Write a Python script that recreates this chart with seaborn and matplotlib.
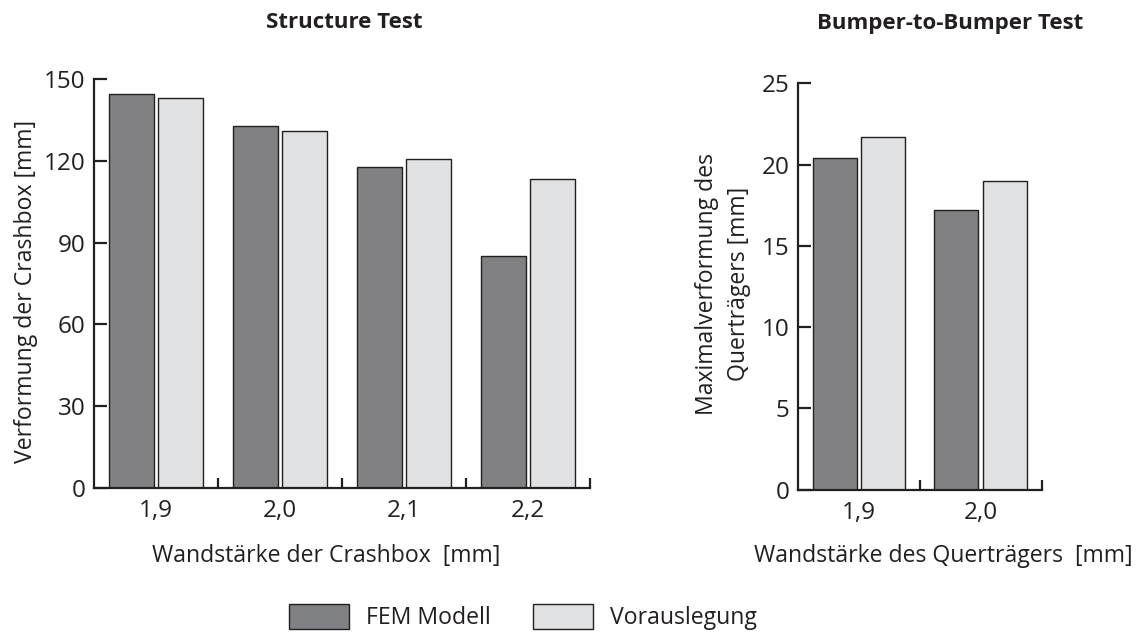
import matplotlib
matplotlib.use("Agg")
import matplotlib.pyplot as plt
import seaborn as sns
import pandas as pd
from matplotlib.patches import Patch
from matplotlib.ticker import FixedLocator

# Data
series_names = ["FEM Modell", "Vorauslegung"]

crashbox_thickness = ["1,9", "2,0", "2,1", "2,2"]
crashbox_fem = [144.6, 132.7, 117.6, 85.1]
crashbox_vor = [143.0, 131.0, 120.6, 113.5]

beam_thickness = ["1,9", "2,0"]
beam_fem = [20.4, 17.2]
beam_vor = [21.7, 19.0]

crashbox_yticks = [0, 30, 60, 90, 120, 150]
beam_yticks = [0, 5, 10, 15, 20, 25]

DARK = "#808184"
LIGHT = "#e0e1e3"
EDGE = "#231f20"
TEXT = "#231f20"

sns.set_theme(style="white")
plt.rcParams["font.family"] = ["Open Sans", "DejaVu Sans"]
plt.rcParams["text.color"] = TEXT
plt.rcParams["axes.labelcolor"] = TEXT
plt.rcParams["xtick.color"] = TEXT
plt.rcParams["ytick.color"] = TEXT

FS_TICK = 17.5
FS_LABEL = 16.6
FS_TITLE = 16


def long_frame(cats, fem, vor):
    return pd.DataFrame({
        "cat": cats * 2,
        "value": list(fem) + list(vor),
        "series": [series_names[0]] * len(cats) + [series_names[1]] * len(cats),
    })


def draw_panel(ax, cats, fem, vor, yticks):
    df = long_frame(cats, fem, vor)
    sns.barplot(data=df, x="cat", y="value", hue="series", order=cats,
                hue_order=series_names, palette=[DARK, LIGHT],
                edgecolor=EDGE, linewidth=1.0, width=0.8, gap=0.095,
                legend=False, ax=ax)
    n = len(cats)
    ax.set_xlim(-0.5, n - 0.5)
    ax.set_ylim(yticks[0], yticks[-1])
    ax.set_yticks(yticks)
    ax.set_yticklabels([str(t) for t in yticks], fontsize=FS_TICK)
    ax.set_xticks(range(n))
    ax.set_xticklabels(cats, fontsize=FS_TICK)
    ax.tick_params(axis="x", which="major", length=0, pad=8)
    ax.xaxis.set_minor_locator(FixedLocator([i + 0.5 for i in range(n)]))
    ax.tick_params(axis="x", which="minor", direction="in", length=7,
                   width=1.6, color=EDGE, bottom=True)
    ax.tick_params(axis="y", direction="in", length=9, width=1.6,
                   color=EDGE, pad=6, left=True)
    for side in ("top", "right"):
        ax.spines[side].set_visible(False)
    for side in ("left", "bottom"):
        ax.spines[side].set_color(EDGE)
        ax.spines[side].set_linewidth(1.6)
    ax.set_xlabel("")
    ax.set_ylabel("")


fig = plt.figure(figsize=(11.44, 6.34), dpi=100)
ax1 = fig.add_axes([0.0822, 0.2303, 0.4336, 0.6451])
ax2 = fig.add_axes([0.6976, 0.2279, 0.2129, 0.6407])

draw_panel(ax1, crashbox_thickness, crashbox_fem, crashbox_vor, crashbox_yticks)
draw_panel(ax2, beam_thickness, beam_fem, beam_vor, beam_yticks)

# Panel titles
fig.text(344 / 1144, 1 - 23 / 634, "Structure Test", ha="center", va="center",
         fontsize=FS_TITLE, fontweight="bold")
fig.text(950 / 1144, 1 - 23 / 634, "Bumper-to-Bumper Test", ha="center",
         va="center", fontsize=FS_TITLE, fontweight="bold")

# Axis labels
fig.text(326 / 1144, 1 - 556 / 634, "Wandstärke der Crashbox  [mm]",
         ha="center", va="center", fontsize=FS_LABEL)
fig.text(943 / 1144, 1 - 556 / 634, "Wandstärke des Querträgers  [mm]",
         ha="center", va="center", fontsize=FS_LABEL)
fig.text(26 / 1144, 1 - 291 / 634, "Verformung der Crashbox [mm]",
         ha="center", va="center", rotation=90, fontsize=FS_LABEL)
fig.text(723 / 1144, 1 - 284 / 634, "Maximalverformung des\nQuerträgers [mm]",
         ha="center", va="center", rotation=90, fontsize=FS_LABEL,
         linespacing=1.45, multialignment="center")

# Shared legend
handles = [Patch(facecolor=DARK, edgecolor=EDGE, linewidth=1.0),
           Patch(facecolor=LIGHT, edgecolor=EDGE, linewidth=1.0)]
fig.legend(handles, series_names, loc="center", ncol=2,
           bbox_to_anchor=(523 / 1144, 1 - 617 / 634), frameon=False,
           fontsize=FS_LABEL, handlelength=2.6, handleheight=1.3,
           handletextpad=0.75, columnspacing=1.8)

fig.savefig("out.png", dpi=100)
